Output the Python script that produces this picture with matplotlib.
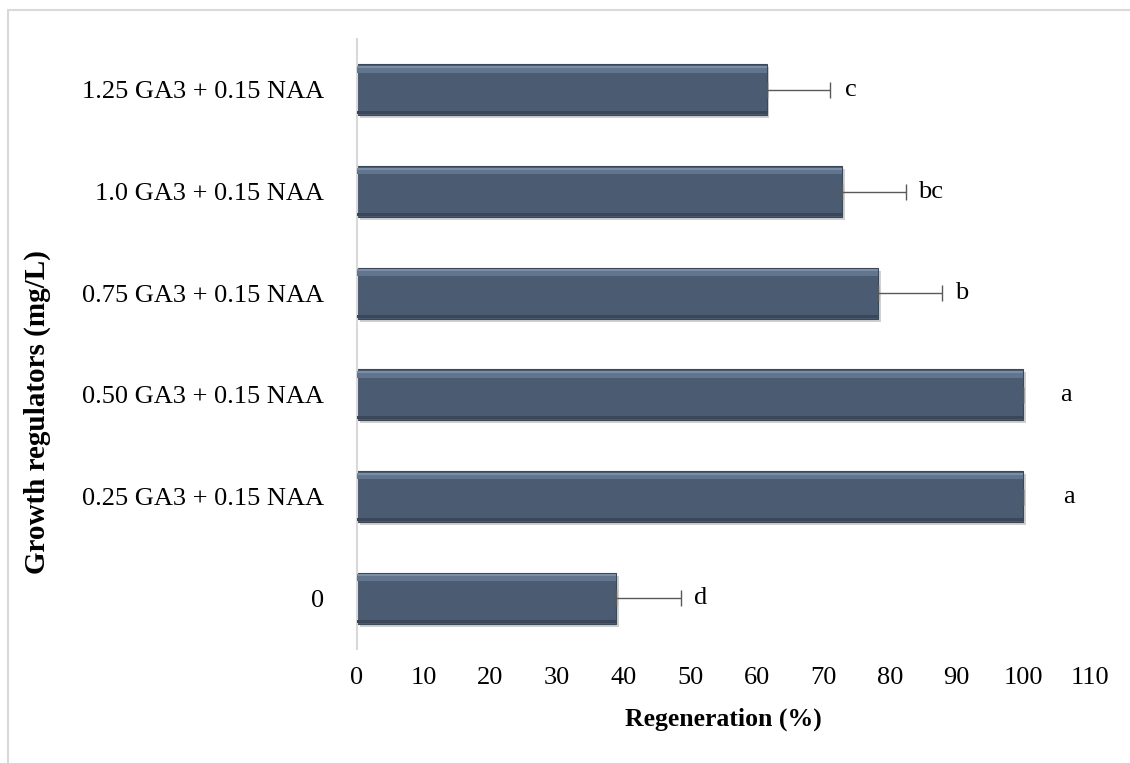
import matplotlib.pyplot as plt
import numpy as np
from matplotlib.patches import Rectangle

plt.rcParams['font.family'] = ['Liberation Serif', 'DejaVu Serif']

TREATMENTS = ['0', '0.25 GA3 + 0.15 NAA', '0.50 GA3 + 0.15 NAA',
              '0.75 GA3 + 0.15 NAA', '1.0 GA3 + 0.15 NAA', '1.25 GA3 + 0.15 NAA']
REGEN = [38.9, 100, 100, 78.2, 72.8, 61.5]
ERR = [9.7, 0, 0, 9.6, 9.6, 9.5]
LETTERS = ['d', 'a', 'a', 'b', 'bc', 'c']

fig = plt.figure(figsize=(11.3, 7.63), dpi=100)
# light grey frame round the chart area
fig.patches.append(Rectangle((8 / 1130, -0.01), 1.2, 1 - 10 / 763 + 0.01,
                             transform=fig.transFigure, fill=False,
                             edgecolor='#d9d9d9', linewidth=1.5))
ax = fig.add_axes([357 / 1130, 1 - 649 / 763, (1090 - 357) / 1130, (649 - 39) / 763])

ypos = np.arange(len(TREATMENTS))
# soft shadow, bar, and bevel highlights
ax.barh(ypos - 0.03, REGEN, height=0.5, left=0.4, color='#d0d0d0', zorder=1)
ax.barh(ypos, REGEN, height=0.5, color='#4a5b72', edgecolor='#3a4858',
        linewidth=0.8, zorder=2)
ax.barh(ypos + 0.2, REGEN, height=0.06, color='#62758f', zorder=3)
ax.barh(ypos + 0.225, REGEN, height=0.02, color='#7b8ea8', zorder=3)
ax.barh(ypos - 0.225, REGEN, height=0.03, color='#3b4758', zorder=3)
ax.errorbar(REGEN, ypos, xerr=[np.zeros(len(ERR)), ERR], fmt='none',
            ecolor='#595959', elinewidth=1, capsize=6, capthick=1, zorder=4)

lab_off = [2.0, 6.0, 5.5, 2.0, 1.8, 2.2]
for y, v, e, t, o in zip(ypos, REGEN, ERR, LETTERS, lab_off):
    ax.text(v + e + o, y, t, va='center', ha='left', fontsize=19)

ax.set_xlim(0, 110)
ax.set_ylim(-0.5, len(TREATMENTS) - 0.5)
ax.set_xticks(np.arange(0, 111, 10))
ax.set_yticks(ypos)
ax.set_yticklabels(TREATMENTS)
ax.tick_params(axis='both', length=0, labelsize=19)
ax.tick_params(axis='y', pad=24)
ax.tick_params(axis='x', pad=13)
for s in ['top', 'right', 'bottom']:
    ax.spines[s].set_visible(False)
ax.spines['left'].set_color('#d9d9d9')
ax.spines['left'].set_linewidth(1.5)

ax.set_xlabel('Regeneration (%)', fontsize=18.5, fontweight='bold', labelpad=13)
ax.set_ylabel('Growth regulators (mg/L)', fontsize=21, fontweight='bold')
ax.yaxis.set_label_coords(-0.418, 0.389)

fig.savefig('out.png', dpi=100)
